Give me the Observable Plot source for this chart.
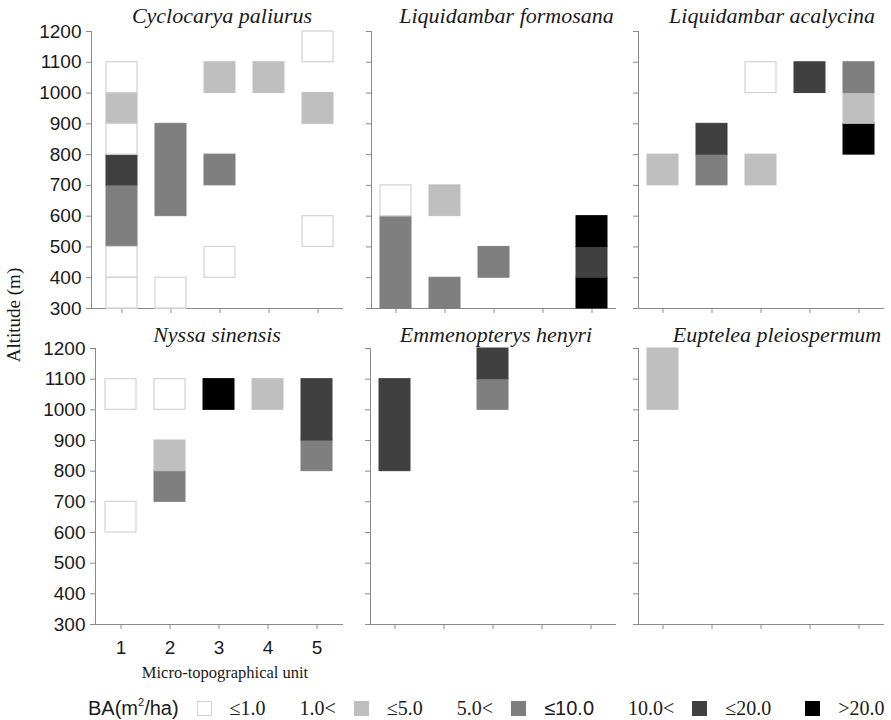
<!DOCTYPE html>
<html><head><meta charset="utf-8">
<script src="https://cdn.jsdelivr.net/npm/d3@7"></script>
<script src="https://cdn.jsdelivr.net/npm/@observablehq/plot@0.6"></script>
<style>
html,body{margin:0;padding:0;background:#fff;}
#chart{position:relative;width:891px;height:720px;overflow:hidden;background:#fff;}
.panel{position:absolute;}
.panel svg{display:block;overflow:visible;}
.panel svg text{fill:#1a1a1a;}
.serif{font-family:"Liberation Serif","Times New Roman",serif;}
.sans{font-family:"Liberation Sans",Arial,sans-serif;}
.abs{position:absolute;white-space:nowrap;color:#1a1a1a;}
#legend{position:absolute;left:88px;top:696px;height:24px;display:flex;align-items:center;color:#1a1a1a;white-space:nowrap;}
#legend .box{width:15px;height:15px;box-sizing:border-box;}
#legend sup{font-size:11px;vertical-align:9px;line-height:0;}
</style></head><body><div id="chart"></div><script>
// ---- data ----
const species = ["Cyclocarya paliurus","Liquidambar formosana","Liquidambar acalycina","Nyssa sinensis","Emmenopterys henyri","Euptelea pleiospermum"];
const units = [1,2,3,4,5];
const altitudeTicks = [300,400,500,600,700,800,900,1000,1100,1200];
const classes = [1,2,3,4,5];
const classLow = ["", "1.0<", "5.0<", "10.0<", ""];
const classHigh = ["\u22641.0", "\u22645.0", "\u226410.0", "\u226420.0", ">20.0"];
// cells: [unit, altitude from, altitude to, BA class]
const cyclocaryaPaliurus = [
  [1,300,400,1],[1,400,500,1],[1,500,700,3],[1,700,800,4],[1,800,900,1],[1,900,1000,2],[1,1000,1100,1],
  [2,300,400,1],[2,600,900,3],
  [3,400,500,1],[3,700,800,3],[3,1000,1100,2],
  [4,1000,1100,2],
  [5,500,600,1],[5,900,1000,2],[5,1100,1200,1]
];
const liquidambarFormosana = [
  [1,300,600,3],[1,600,700,1],
  [2,300,400,3],[2,600,700,2],
  [3,400,500,3],
  [5,300,400,5],[5,400,500,4],[5,500,600,5]
];
const liquidambarAcalycina = [
  [1,700,800,2],
  [2,700,800,3],[2,800,900,4],
  [3,700,800,2],[3,1000,1100,1],
  [4,1000,1100,4],
  [5,800,900,5],[5,900,1000,2],[5,1000,1100,3]
];
const nyssaSinensis = [
  [1,600,700,1],[1,1000,1100,1],
  [2,700,800,3],[2,800,900,2],[2,1000,1100,1],
  [3,1000,1100,5],
  [4,1000,1100,2],
  [5,800,900,3],[5,900,1100,4]
];
const emmenopterysHenyri = [
  [1,800,1100,4],
  [3,1000,1100,3],[3,1100,1200,4]
];
const eupteleaPleiospermum = [
  [1,1000,1200,2]
];
const panelsData = [cyclocaryaPaliurus, liquidambarFormosana, liquidambarAcalycina, nyssaSinensis, emmenopterysHenyri, eupteleaPleiospermum];

// ---- styles ----
const classFills = ["#ffffff", "#bfbfbf", "#7f7f7f", "#404040", "#000000"];
const whiteStroke = "#d2d2d2";
const layout = [
  {left:0,   top:0,   width:355, height:322, mL:91, mR:13, mT:31, mB:14, po:0.24, align:0.6, yLab:true,  xLab:false, dx:5,  dy:-16},
  {left:355, top:0,   width:270, height:322, mL:16, mR:10, mT:31, mB:14, po:0.17, align:0.5, yLab:false, xLab:false, dx:13, dy:-16},
  {left:625, top:0,   width:266, height:322, mL:13, mR:8,  mT:31, mB:14, po:0.18, align:0.5, yLab:false, xLab:false, dx:11, dy:-16},
  {left:0,   top:322, width:355, height:338, mL:95, mR:13, mT:26, mB:36, po:0.20, align:0.5, yLab:true,  xLab:true,  dx:-2, dy:-14},
  {left:355, top:322, width:270, height:338, mL:15, mR:10, mT:26, mB:36, po:0.17, align:0.5, yLab:false, xLab:false, dx:3,  dy:-14},
  {left:625, top:322, width:266, height:338, mL:13, mR:8,  mT:26, mB:36, po:0.18, align:0.5, yLab:false, xLab:false, dx:16, dy:-14}
];

const chart = document.getElementById("chart");

species.forEach((name, i) => {
  const L = layout[i];
  const cells = panelsData[i];
  const svg = Plot.plot({
    width: L.width, height: L.height,
    marginLeft: L.mL, marginRight: L.mR, marginTop: L.mT, marginBottom: L.mB,
    style: {fontFamily: '"Liberation Sans", Arial, sans-serif', fontSize: "19px", color: "#8a8a8a", background: "transparent", overflow: "visible"},
    x: {type: "band", domain: units, paddingInner: 0.375, paddingOuter: L.po, align: L.align,
        label: null, tickSize: 5, tickPadding: 11, line: true,
        tickFormat: L.xLab ? (d => String(d)) : (() => "")},
    y: {domain: [300, 1200], ticks: altitudeTicks, label: null, tickSize: 5, tickPadding: 5, line: true,
        tickFormat: L.yLab ? (d => String(d)) : (() => "")},
    color: {type: "ordinal", domain: classes, range: classFills},
    marks: [
      Plot.barY(cells, {x: d => d[0], y1: d => d[1], y2: d => d[2], fill: d => d[3], stroke: d => d[3], strokeWidth: 1}),
      Plot.barY(cells, {filter: d => d[3] === 1, x: d => d[0], y1: d => d[1], y2: d => d[2], fill: "none", stroke: whiteStroke, strokeWidth: 1.2}),
      Plot.text([name], {text: d => d, frameAnchor: "top", lineAnchor: "middle", dx: L.dx, dy: L.dy,
        fontFamily: '"Liberation Serif", "Times New Roman", serif', fontStyle: "italic", fontSize: 22})
    ]
  });
  const div = document.createElement("div");
  div.className = "panel";
  div.style.left = L.left + "px";
  div.style.top = L.top + "px";
  div.appendChild(svg);
  chart.appendChild(div);
});

// axis titles
const yTitle = document.createElement("div");
yTitle.className = "abs serif";
yTitle.textContent = "Altitude (m)";
Object.assign(yTitle.style, {left: "14px", top: "315px", fontSize: "19px", transform: "translate(-50%,-50%) rotate(-90deg)"});
chart.appendChild(yTitle);

const xTitle = document.createElement("div");
xTitle.className = "abs serif";
xTitle.textContent = "Micro-topographical unit";
Object.assign(xTitle.style, {left: "225px", top: "673px", fontSize: "16.5px", transform: "translate(-50%,-50%)"});
chart.appendChild(xTitle);

// legend
const legend = document.createElement("div");
legend.id = "legend";
const lt = document.createElement("span");
lt.className = "sans";
lt.style.fontSize = "20px";
lt.innerHTML = "BA(m<sup>2</sup>/ha)";
legend.appendChild(lt);
classes.forEach((c, k) => {
  let first = true;
  if (classLow[k]) {
    const s = document.createElement("span");
    s.className = "serif";
    s.style.fontSize = "20px";
    s.style.marginLeft = "34px";
    s.textContent = classLow[k];
    legend.appendChild(s);
    first = false;
  }
  const b = document.createElement("span");
  b.className = "box";
  b.style.background = classFills[k];
  b.style.border = "1px solid " + (c === 1 ? whiteStroke : classFills[k]);
  b.style.marginLeft = (first ? (k === 0 ? 18 : 34) : 18) + "px";
  legend.appendChild(b);
  const h = document.createElement("span");
  h.className = c === 3 ? "sans" : "serif";
  h.style.fontSize = "20px";
  h.style.marginLeft = "18px";
  h.textContent = classHigh[k];
  legend.appendChild(h);
});
chart.appendChild(legend);
</script></body></html>
